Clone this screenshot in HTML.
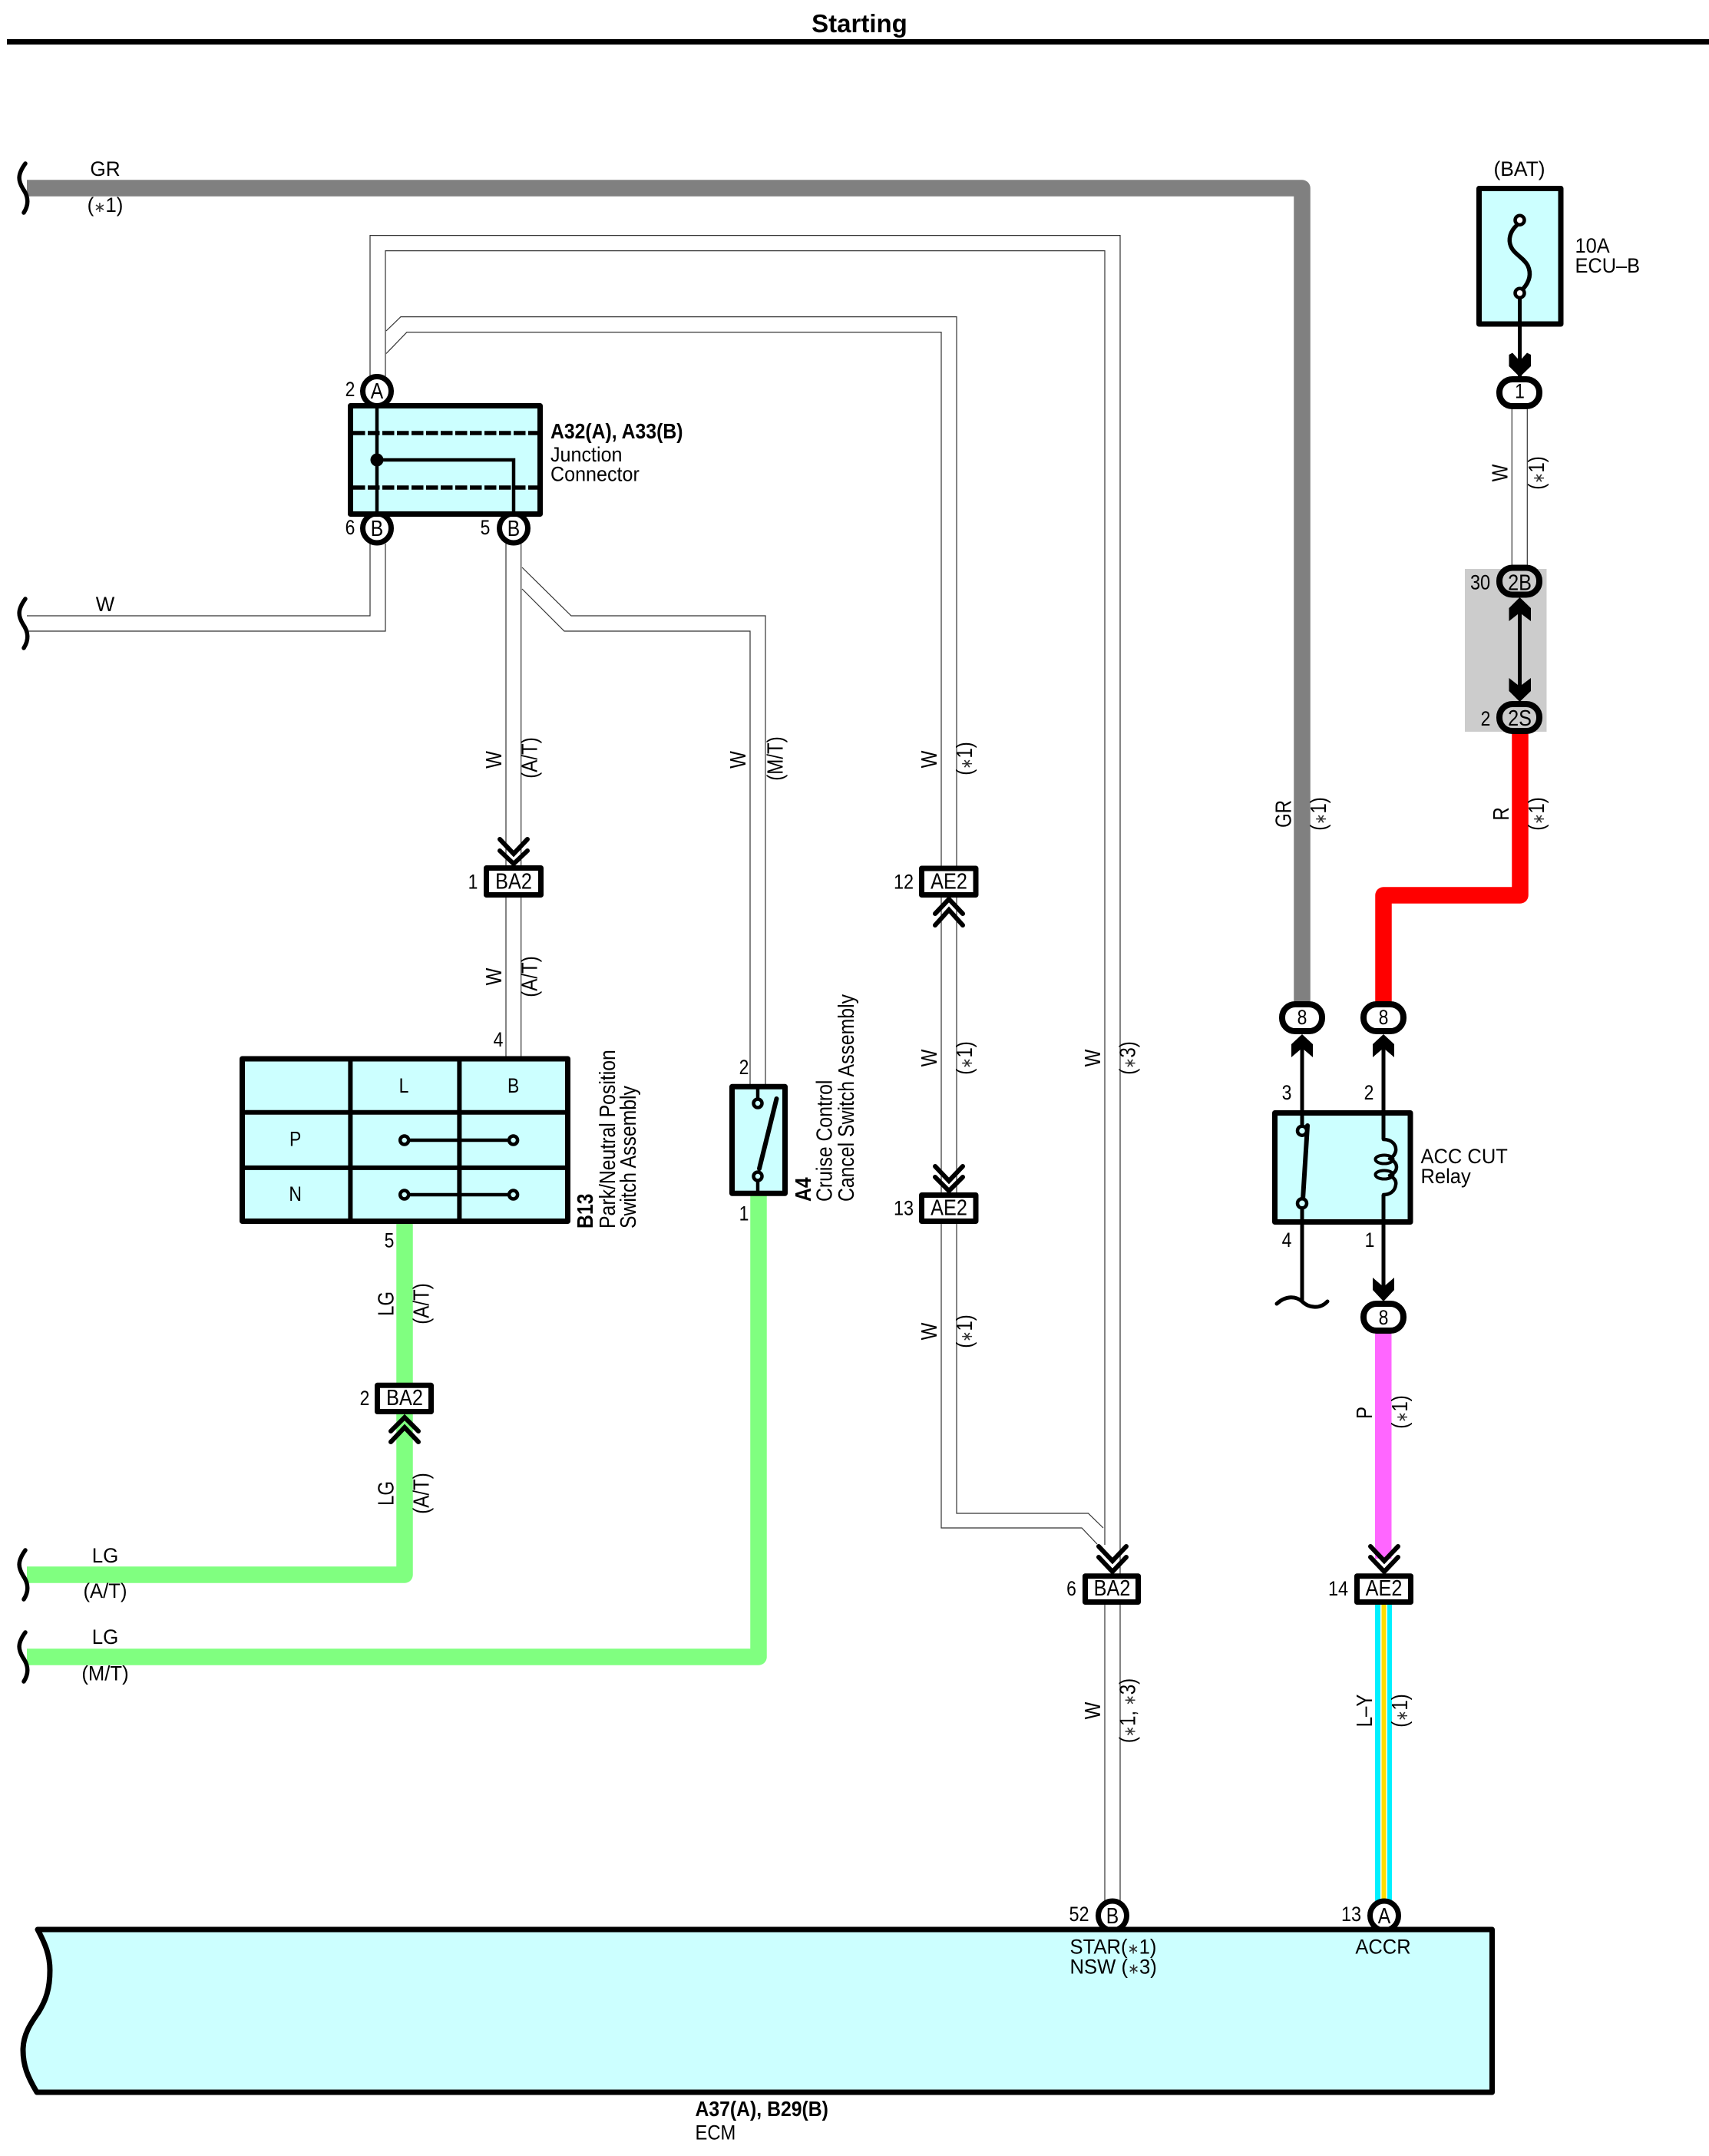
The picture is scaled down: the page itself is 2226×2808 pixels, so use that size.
<!DOCTYPE html>
<html><head><meta charset="utf-8"><title>Starting</title>
<style>
html,body{margin:0;padding:0;background:#fff}
svg{display:block}
text{font-family:"Liberation Sans",Arial,sans-serif;fill:#000}
.t{font-size:27px}.m{font-size:27px;text-anchor:middle}.b{font-size:29px;text-anchor:middle}
.bd{font-size:28px;font-weight:bold}.r{font-size:29px;text-anchor:middle}.c{font-size:29px}
.a{font-size:70%;fill:#333}
.w{fill:none;stroke:#333;stroke-width:1.2}
.k{fill:none;stroke:#000;stroke-linecap:round;stroke-linejoin:round}
.ch{fill:none;stroke:#000;stroke-width:6;stroke-linecap:round;stroke-linejoin:miter}
.box{fill:#ccffff;stroke:#000;stroke-width:7;stroke-linejoin:round}
.lb{fill:#fff;stroke:#000;stroke-width:7;stroke-linejoin:round}
.ov{fill:#fff;stroke:#000;stroke-width:8}
.col{fill:none;stroke-width:21.5;stroke-linejoin:round}
</style></head><body>
<svg xmlns="http://www.w3.org/2000/svg" width="2226" height="2808" viewBox="0 0 2226 2808">
<rect width="2226" height="2808" fill="#fff"/>
<!-- title -->
<text x="1119.500" y="42" font-size="33" font-weight="bold" text-anchor="middle">Starting</text>
<rect x="9" y="51" width="2217" height="7" fill="#000"/>

<!-- coloured wires -->
<path class="col" stroke="#808080" d="M35 245H1696V1310"/>
<rect x="1908" y="741" width="106.500" height="212" fill="#ccc"/>
<path class="col" stroke="#ff0000" d="M1980 950V1166H1802V1310"/>
<path class="col" stroke="#80ff80" d="M35 2051H527V1590"/>
<path class="col" stroke="#80ff80" d="M35 2158H988V1555"/>
<rect x="1791" y="1730" width="21.500" height="300" fill="#ff66ff"/>
<rect x="1791" y="2088" width="22" height="395" fill="#00f0ff"/>
<rect x="1798" y="2088" width="9" height="395" fill="#fff"/>
<rect x="1799.500" y="2088" width="6" height="395" fill="#ffdd00"/>

<!-- thin double wires -->
<path class="w" d="M482 490V306.600H1459V2480"/>
<path class="w" d="M502 490V326.600H1439V2012M1439 2050V2480"/>
<path class="w" d="M503 431L522 412.600H1246V1971H1417.500L1437 1990"/>
<path class="w" d="M503 460.500L530 432.600H1226V1990H1409L1429 2011"/>
<path class="w" d="M35 802H482V708M35 822H502V708"/>
<path class="w" d="M659 708V1378M678.700 708V1378"/>
<path class="w" d="M680 739L744 802H997V1415M680 767L735 822H977V1415"/>
<path class="w" d="M1969.300 530V745M1989.300 530V745"/>

<!-- squiggles -->
<path class="k" stroke-width="5.500" d="M33 213C22 228 24 236 30 246C37 256 38 266 31 277"/>
<path class="k" stroke-width="5.500" d="M33 780C22 795 24 803 30 813C37 823 38 833 31 844"/>
<path class="k" stroke-width="5.500" d="M33 2019C22 2034 24 2042 30 2052C37 2062 38 2072 31 2083"/>
<path class="k" stroke-width="5.500" d="M33 2126C22 2141 24 2149 30 2159C37 2169 38 2179 31 2190"/>

<!-- junction connector -->
<ellipse class="lb" cx="491" cy="509.500" rx="18.500" ry="19"/>
<ellipse class="lb" cx="491" cy="688" rx="18.500" ry="19"/>
<ellipse class="lb" cx="669" cy="688" rx="18.500" ry="19"/>
<rect class="box" x="456.500" y="528.500" width="247" height="141"/>
<path d="M460 564H702M460 635H702" fill="none" stroke="#000" stroke-width="5.500" stroke-dasharray="15.500 3.500"/>
<path d="M491 528V672M491 599H669V672" fill="none" stroke="#000" stroke-width="4.500"/>
<circle cx="491" cy="599" r="8.500" fill="#000"/>

<!-- fuse -->
<rect class="box" x="1926.500" y="245.500" width="106.500" height="176.500"/>
<path class="k" stroke-width="5.500" d="M1976 293C1967 301 1964 312 1968 321C1972 331 1985 336 1990 346C1995 357 1992 367 1984 376"/>
<circle cx="1979.500" cy="286.700" r="6" fill="#fff" stroke="#000" stroke-width="4.500"/>
<circle cx="1979.500" cy="381.700" r="6" fill="#fff" stroke="#000" stroke-width="4.500"/>
<path d="M1979.500 388V490" stroke="#000" stroke-width="5"/>
<polygon points="1965.500,462 1970,459.500 1979.500,470 1989,459.500 1994,462 1994,477 1979.500,491 1965.500,477" fill="#000"/>
<rect class="ov" x="1953" y="494" width="52" height="35" rx="17"/>
<rect x="1953" y="739.500" width="52" height="35" rx="17" fill="#ccc" stroke="#000" stroke-width="8"/>
<path d="M1979.500 795V900" stroke="#000" stroke-width="5"/>
<polygon points="1979.500,778 1965.500,792 1965.500,809 1979.500,798 1994,809 1994,792" fill="#000"/>
<polygon points="1965.500,883 1979.500,894 1994,883 1994,900 1979.500,914 1965.500,900" fill="#000"/>
<rect x="1953" y="917" width="52" height="35" rx="17" fill="#ccc" stroke="#000" stroke-width="8"/>

<!-- relay -->
<rect class="box" x="1660.500" y="1449.500" width="176.500" height="142"/>
<path d="M1696 1350V1467M1696 1573V1696M1802 1350V1484M1802 1556V1680" stroke="#000" stroke-width="5" fill="none"/>
<path class="k" stroke-width="6" d="M1703 1466L1697 1562"/>
<circle cx="1696" cy="1472.700" r="6" fill="#ccffff" stroke="#000" stroke-width="4.500"/>
<circle cx="1696" cy="1567.300" r="6" fill="#ccffff" stroke="#000" stroke-width="4.500"/>
<path class="k" stroke-width="4.500" d="M1802 1484C1813 1484 1819 1491 1818 1499C1817 1504 1814 1507 1810 1509C1816 1512 1819 1516 1819 1520C1819 1525 1816 1528 1810 1531C1816 1534 1819 1538 1818 1543C1817 1551 1811 1556 1802 1556"/>
<ellipse cx="1803" cy="1510" rx="11.500" ry="5.500" fill="none" stroke="#000" stroke-width="4"/>
<ellipse cx="1803" cy="1530" rx="11.500" ry="5.500" fill="none" stroke="#000" stroke-width="4"/>
<path class="k" stroke-width="5" d="M1663 1698C1675 1687 1688 1688 1696 1695C1705 1704 1720 1705 1729 1695"/>
<polygon points="1696,1347 1682,1360 1682,1377 1696,1365 1710,1377 1710,1360" fill="#000"/>
<polygon points="1802,1347 1788,1360 1788,1377 1802,1365 1816,1377 1816,1360" fill="#000"/>
<polygon points="1788,1664 1802,1676 1816,1664 1816,1680 1802,1695 1788,1680" fill="#000"/>
<rect class="ov" x="1670" y="1308" width="52" height="35" rx="17"/>
<rect class="ov" x="1776" y="1308" width="52" height="35" rx="17"/>
<rect class="ov" x="1776" y="1698" width="52" height="35" rx="17"/>

<!-- B13 table -->
<rect class="box" x="315.500" y="1379" width="424" height="211.500"/>
<path d="M456.400 1379V1590M598.400 1379V1590M316 1448.700H739M316 1520.900H739" stroke="#000" stroke-width="6" fill="none"/>
<path d="M527 1485H669M527 1556H669" stroke="#000" stroke-width="4.500" fill="none"/>
<g fill="#ccffff" stroke="#000" stroke-width="4.500">
<circle cx="526.700" cy="1485" r="5.500"/><circle cx="668.600" cy="1485" r="5.500"/>
<circle cx="526.700" cy="1556" r="5.500"/><circle cx="668.600" cy="1556" r="5.500"/>
</g>

<!-- A4 switch -->
<rect class="box" x="953.500" y="1415.300" width="69" height="139"/>
<path d="M987 1415V1431M987 1538V1555" stroke="#000" stroke-width="4.500" fill="none"/>
<path class="k" stroke-width="6" d="M1011.500 1431L989 1522"/>
<circle cx="987" cy="1437" r="5.500" fill="#ccffff" stroke="#000" stroke-width="4.500"/>
<circle cx="987" cy="1532" r="5.500" fill="#ccffff" stroke="#000" stroke-width="4.500"/>

<!-- inline connector boxes -->
<rect class="lb" x="633.500" y="1130.500" width="71" height="35"/>
<rect class="lb" x="491.500" y="1804.300" width="70" height="34.200"/>
<rect class="lb" x="1200.500" y="1131" width="70.500" height="34.500"/>
<rect class="lb" x="1200.500" y="1556.500" width="70.500" height="34"/>
<rect class="lb" x="1413.500" y="2052.700" width="69" height="33.800"/>
<rect class="lb" x="1767.500" y="2052.700" width="70" height="33.800"/>
<!-- chevrons -->
<path class="ch" d="M651 1093L669 1112L687 1093M651 1108L669 1125L687 1108"/>
<path class="ch" d="M509 1864L527 1846L545 1864M509 1878L527 1859L545 1878"/>
<path class="ch" d="M1218 1190L1236 1171L1254 1190M1218 1205L1236 1185L1254 1205"/>
<path class="ch" d="M1218 1519L1236 1538L1254 1519M1218 1533L1236 1551L1254 1533"/>
<path class="ch" d="M1431 2014L1449 2033L1467 2014M1431 2028L1449 2047L1467 2028"/>
<path class="ch" d="M1785 2014L1803 2033L1821 2014M1785 2028L1803 2047L1821 2028"/>

<!-- ECM -->
<ellipse class="lb" cx="1449" cy="2495" rx="18.500" ry="19"/>
<ellipse class="lb" cx="1803" cy="2495" rx="18.500" ry="19"/>
<path class="box" d="M49 2513H1943.500V2725H48C36 2705 30 2690 30 2670C30 2650 40 2635 50 2621C60 2605 65 2590 65 2566C65 2545 58 2530 49 2513Z"/>

<!-- horizontal labels -->
<text class="m" transform="translate(137,229) scale(.97,1)">GR</text>
<text class="m" transform="translate(137,276) scale(.96,1)">(<tspan class="a">∗</tspan>1)</text>
<text class="m" transform="translate(137,796) scale(.96,1)">W</text>
<text class="m" transform="translate(137,2035) scale(.96,1)">LG</text>
<text class="m" transform="translate(137,2081) scale(.95,1)">(A/T)</text>
<text class="m" transform="translate(137,2141) scale(.96,1)">LG</text>
<text class="m" transform="translate(137,2188.500) scale(.95,1)">(M/T)</text>
<text class="m" transform="translate(1979,229) scale(.98,1)">(BAT)</text>
<text class="t" transform="translate(2051.500,329) scale(.94,1)">10A</text>
<text class="t" transform="translate(2051.500,355) scale(.94,1)">ECU–B</text>
<text class="bd" transform="translate(717,571) scale(.885,1)">A32(A), A33(B)</text>
<text class="t" transform="translate(717,601) scale(.93,1)">Junction</text>
<text class="t" transform="translate(717,626.500) scale(.93,1)">Connector</text>
<text class="m" transform="translate(456,516) scale(.85,1)">2</text>
<text class="m" transform="translate(456,696) scale(.85,1)">6</text>
<text class="m" transform="translate(632,696) scale(.85,1)">5</text>
<text class="b" transform="translate(491,519) scale(.85,1)">A</text>
<text class="b" transform="translate(491,698) scale(.85,1)">B</text>
<text class="b" transform="translate(669,698) scale(.85,1)">B</text>
<text class="m" transform="translate(1979.500,518.500) scale(.85,1)">1</text>
<text class="b" transform="translate(1979.500,768.500) scale(.87,1)">2B</text>
<text class="b" transform="translate(1979.500,945) scale(.87,1)">2S</text>
<text class="m" transform="translate(1928,767.500) scale(.87,1)">30</text>
<text class="m" transform="translate(1935,945) scale(.85,1)">2</text>
<text class="m" transform="translate(1696,1334) scale(.85,1)">8</text>
<text class="m" transform="translate(1802,1334) scale(.85,1)">8</text>
<text class="m" transform="translate(1802,1725) scale(.85,1)">8</text>
<text class="m" transform="translate(1676,1432) scale(.85,1)">3</text>
<text class="m" transform="translate(1783,1432) scale(.85,1)">2</text>
<text class="m" transform="translate(1676,1624) scale(.85,1)">4</text>
<text class="m" transform="translate(1784,1624) scale(.85,1)">1</text>
<text class="t" transform="translate(1850.500,1515) scale(.945,1)">ACC CUT</text>
<text class="t" transform="translate(1850.500,1541) scale(.945,1)">Relay</text>
<text class="b" transform="translate(669,1157.500) scale(.87,1)">BA2</text>
<text class="m" transform="translate(616,1157.500) scale(.85,1)">1</text>
<text class="b" transform="translate(527,1830) scale(.87,1)">BA2</text>
<text class="m" transform="translate(475,1830) scale(.85,1)">2</text>
<text class="b" transform="translate(1236,1157.500) scale(.87,1)">AE2</text>
<text class="m" transform="translate(1177,1157.500) scale(.87,1)">12</text>
<text class="b" transform="translate(1236,1582.500) scale(.87,1)">AE2</text>
<text class="m" transform="translate(1177,1582.500) scale(.87,1)">13</text>
<text class="b" transform="translate(1448.500,2078) scale(.87,1)">BA2</text>
<text class="m" transform="translate(1395.500,2078) scale(.85,1)">6</text>
<text class="b" transform="translate(1802.500,2078) scale(.87,1)">AE2</text>
<text class="m" transform="translate(1743,2078) scale(.87,1)">14</text>
<text class="m" transform="translate(649,1363) scale(.85,1)">4</text>
<text class="m" transform="translate(507,1624.500) scale(.85,1)">5</text>
<text class="m" transform="translate(969,1399) scale(.85,1)">2</text>
<text class="m" transform="translate(969,1589.500) scale(.85,1)">1</text>
<text class="m" transform="translate(526,1423) scale(.85,1)">L</text>
<text class="m" transform="translate(668.600,1423) scale(.85,1)">B</text>
<text class="m" transform="translate(384.700,1492.500) scale(.85,1)">P</text>
<text class="m" transform="translate(384.700,1564) scale(.85,1)">N</text>
<text class="b" transform="translate(1449,2505) scale(.85,1)">B</text>
<text class="b" transform="translate(1803,2505) scale(.85,1)">A</text>
<text class="m" transform="translate(1405.500,2502) scale(.87,1)">52</text>
<text class="m" transform="translate(1760,2502) scale(.87,1)">13</text>
<text class="t" transform="translate(1393.500,2544.500) scale(.95,1)">STAR(<tspan class="a">∗</tspan>1)</text>
<text class="t" transform="translate(1393.500,2570.500) scale(.95,1)">NSW (<tspan class="a">∗</tspan>3)</text>
<text class="m" transform="translate(1801.500,2544.500) scale(.945,1)">ACCR</text>
<text class="bd" transform="translate(905.500,2756) scale(.885,1)">A37(A), B29(B)</text>
<text class="t" transform="translate(905.500,2786.500) scale(.88,1)">ECM</text>

<!-- rotated wire labels -->
<text class="r" transform="translate(653,989.500) rotate(-90) scale(.83,1)">W</text>
<text class="r" transform="translate(699.500,987) rotate(-90) scale(.83,1)">(A/T)</text>
<text class="r" transform="translate(653,1272) rotate(-90) scale(.83,1)">W</text>
<text class="r" transform="translate(699.500,1272) rotate(-90) scale(.83,1)">(A/T)</text>
<text class="r" transform="translate(971,989.500) rotate(-90) scale(.83,1)">W</text>
<text class="r" transform="translate(1019.500,988) rotate(-90) scale(.83,1)">(M/T)</text>
<text class="r" transform="translate(512.500,1698) rotate(-90) scale(.83,1)">LG</text>
<text class="r" transform="translate(558.500,1698) rotate(-90) scale(.83,1)">(A/T)</text>
<text class="r" transform="translate(512.500,1945) rotate(-90) scale(.83,1)">LG</text>
<text class="r" transform="translate(558.500,1945) rotate(-90) scale(.83,1)">(A/T)</text>
<text class="r" transform="translate(1220,989) rotate(-90) scale(.83,1)">W</text>
<text class="r" transform="translate(1266,988) rotate(-90) scale(.83,1)">(<tspan class="a">∗</tspan>1)</text>
<text class="r" transform="translate(1220,1378) rotate(-90) scale(.83,1)">W</text>
<text class="r" transform="translate(1266,1378) rotate(-90) scale(.83,1)">(<tspan class="a">∗</tspan>1)</text>
<text class="r" transform="translate(1220,1734) rotate(-90) scale(.83,1)">W</text>
<text class="r" transform="translate(1266,1734) rotate(-90) scale(.83,1)">(<tspan class="a">∗</tspan>1)</text>
<text class="r" transform="translate(1433,1378) rotate(-90) scale(.83,1)">W</text>
<text class="r" transform="translate(1478.500,1378) rotate(-90) scale(.83,1)">(<tspan class="a">∗</tspan>3)</text>
<text class="r" transform="translate(1433,2228) rotate(-90) scale(.83,1)">W</text>
<text class="r" transform="translate(1478.500,2228) rotate(-90) scale(.83,1)">(<tspan class="a">∗</tspan>1, <tspan class="a">∗</tspan>3)</text>
<text class="r" transform="translate(1681.500,1060) rotate(-90) scale(.83,1)">GR</text>
<text class="r" transform="translate(1727,1060) rotate(-90) scale(.83,1)">(<tspan class="a">∗</tspan>1)</text>
<text class="r" transform="translate(1965,1060) rotate(-90) scale(.83,1)">R</text>
<text class="r" transform="translate(2011,1060) rotate(-90) scale(.83,1)">(<tspan class="a">∗</tspan>1)</text>
<text class="r" transform="translate(1963.500,616) rotate(-90) scale(.83,1)">W</text>
<text class="r" transform="translate(2011,616) rotate(-90) scale(.83,1)">(<tspan class="a">∗</tspan>1)</text>
<text class="r" transform="translate(1787,1840) rotate(-90) scale(.83,1)">P</text>
<text class="r" transform="translate(1833,1839) rotate(-90) scale(.83,1)">(<tspan class="a">∗</tspan>1)</text>
<text class="r" transform="translate(1787,2228) rotate(-90) scale(.83,1)">L–Y</text>
<text class="r" transform="translate(1833,2228) rotate(-90) scale(.83,1)">(<tspan class="a">∗</tspan>1)</text>

<!-- rotated component labels -->
<text class="c" font-weight="bold" transform="translate(772,1600) rotate(-90) scale(.855,1)">B13</text>
<text class="c" transform="translate(801,1600) rotate(-90) scale(.855,1)">Park/Neutral Position</text>
<text class="c" transform="translate(828,1600) rotate(-90) scale(.855,1)">Switch Assembly</text>
<text class="c" font-weight="bold" transform="translate(1056,1565) rotate(-90) scale(.855,1)">A4</text>
<text class="c" transform="translate(1083.500,1565) rotate(-90) scale(.855,1)">Cruise Control</text>
<text class="c" transform="translate(1112,1565) rotate(-90) scale(.855,1)">Cancel Switch Assembly</text>
</svg>
</body></html>
